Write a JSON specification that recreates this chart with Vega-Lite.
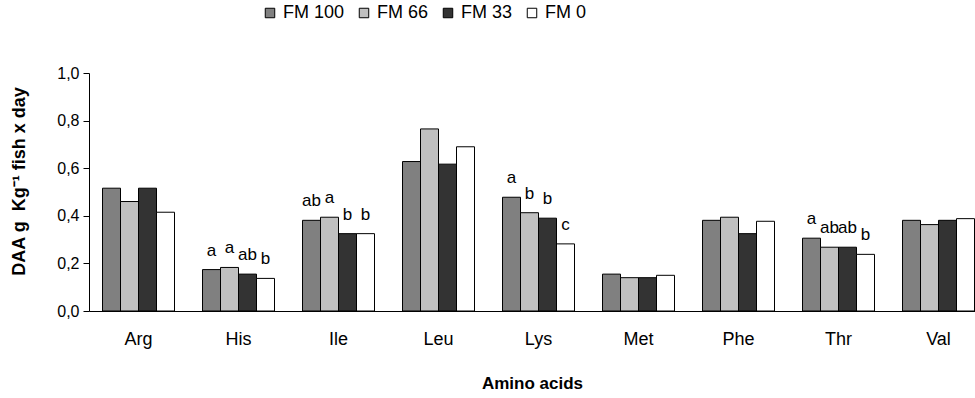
{
  "$schema": "https://vega.github.io/schema/vega-lite/v6.json",
  "width": 886,
  "height": 238,
  "autosize": {"type": "none"},
  "padding": {"left": 89, "top": 73, "right": 0, "bottom": 87},
  "background": "white",
  "config": {
    "view": {"stroke": null},
    "font": "Liberation Sans",
    "axis": {"labelFont": "Liberation Sans", "titleFont": "Liberation Sans", "labelColor": "black", "titleColor": "black", "domainColor": "black", "tickColor": "black"}
  },
  "data": {
    "values": [
      {"aa": "Arg", "diet": "FM 100", "value": 0.516, "sig": ""},
      {"aa": "Arg", "diet": "FM 66", "value": 0.46, "sig": ""},
      {"aa": "Arg", "diet": "FM 33", "value": 0.516, "sig": ""},
      {"aa": "Arg", "diet": "FM 0", "value": 0.415, "sig": ""},
      {"aa": "His", "diet": "FM 100", "value": 0.174, "sig": "a"},
      {"aa": "His", "diet": "FM 66", "value": 0.183, "sig": "a"},
      {"aa": "His", "diet": "FM 33", "value": 0.155, "sig": "ab"},
      {"aa": "His", "diet": "FM 0", "value": 0.137, "sig": "b"},
      {"aa": "Ile", "diet": "FM 100", "value": 0.381, "sig": "ab"},
      {"aa": "Ile", "diet": "FM 66", "value": 0.394, "sig": "a"},
      {"aa": "Ile", "diet": "FM 33", "value": 0.325, "sig": "b"},
      {"aa": "Ile", "diet": "FM 0", "value": 0.325, "sig": "b"},
      {"aa": "Leu", "diet": "FM 100", "value": 0.628, "sig": ""},
      {"aa": "Leu", "diet": "FM 66", "value": 0.765, "sig": ""},
      {"aa": "Leu", "diet": "FM 33", "value": 0.617, "sig": ""},
      {"aa": "Leu", "diet": "FM 0", "value": 0.69, "sig": ""},
      {"aa": "Lys", "diet": "FM 100", "value": 0.478, "sig": "a"},
      {"aa": "Lys", "diet": "FM 66", "value": 0.413, "sig": "b"},
      {"aa": "Lys", "diet": "FM 33", "value": 0.39, "sig": "b"},
      {"aa": "Lys", "diet": "FM 0", "value": 0.282, "sig": "c"},
      {"aa": "Met", "diet": "FM 100", "value": 0.155, "sig": ""},
      {"aa": "Met", "diet": "FM 66", "value": 0.14, "sig": ""},
      {"aa": "Met", "diet": "FM 33", "value": 0.14, "sig": ""},
      {"aa": "Met", "diet": "FM 0", "value": 0.15, "sig": ""},
      {"aa": "Phe", "diet": "FM 100", "value": 0.381, "sig": ""},
      {"aa": "Phe", "diet": "FM 66", "value": 0.394, "sig": ""},
      {"aa": "Phe", "diet": "FM 33", "value": 0.325, "sig": ""},
      {"aa": "Phe", "diet": "FM 0", "value": 0.377, "sig": ""},
      {"aa": "Thr", "diet": "FM 100", "value": 0.306, "sig": "a"},
      {"aa": "Thr", "diet": "FM 66", "value": 0.268, "sig": "ab"},
      {"aa": "Thr", "diet": "FM 33", "value": 0.268, "sig": "ab"},
      {"aa": "Thr", "diet": "FM 0", "value": 0.238, "sig": "b"},
      {"aa": "Val", "diet": "FM 100", "value": 0.381, "sig": ""},
      {"aa": "Val", "diet": "FM 66", "value": 0.363, "sig": ""},
      {"aa": "Val", "diet": "FM 33", "value": 0.381, "sig": ""},
      {"aa": "Val", "diet": "FM 0", "value": 0.388, "sig": ""}
    ]
  },
  "encoding": {
    "x": {
      "field": "aa", "type": "nominal", "sort": null,
      "scale": {"paddingInner": 0.28, "paddingOuter": 0.135, "range": [0, 899]},
      "axis": {"title": "Amino acids", "labelAngle": 0, "labelFontSize": 18, "labelPadding": 19, "ticks": false, "titleFontSize": 17, "titleFontWeight": "bold", "titleX": 443, "titleY": 64, "titleBaseline": "top", "titleAlign": "center"}
    },
    "xOffset": {"field": "diet", "type": "nominal", "sort": ["FM 100", "FM 66", "FM 33", "FM 0"]},
    "y": {
      "field": "value", "type": "quantitative",
      "scale": {"domain": [0, 1], "nice": false},
      "axis": {"title": "DAA g\u00a0\u00a0Kg⁻¹\u00a0fish\u00a0x\u00a0day", "values": [0, 0.2, 0.4, 0.6, 0.8, 1.0], "labelExpr": "replace(format(datum.value, '.1f'), '.', ',')", "labelFontSize": 16, "grid": false, "tickSize": 6, "labelPadding": 4, "titleFontSize": 18, "titleFontWeight": "bold", "titleX": -61, "titleY": 108, "titleAngle": -90, "titleAlign": "center", "titleBaseline": "bottom"}
    }
  },
  "layer": [
    {
      "mark": {"type": "bar", "stroke": "black", "strokeWidth": 1},
      "encoding": {
        "fill": {
          "field": "diet", "type": "nominal",
          "sort": ["FM 100", "FM 66", "FM 33", "FM 0"],
          "scale": {"domain": ["FM 100", "FM 66", "FM 33", "FM 0"], "range": ["#808080", "#c0c0c0", "#333333", "#ffffff"]},
          "legend": {"title": null, "orient": "none", "direction": "horizontal", "legendX": 172, "legendY": -69, "symbolType": "square", "symbolStrokeColor": "black", "symbolStrokeWidth": 1, "symbolSize": 90, "labelFontSize": 18, "labelColor": "black", "labelFont": "Liberation Sans", "columnPadding": 10, "labelOffset": 4}
        }
      }
    },
    {
      "mark": {"type": "text", "baseline": "alphabetic", "dy": -14, "fontSize": 17, "color": "black"},
      "encoding": {"text": {"field": "sig"}}
    }
  ]
}
